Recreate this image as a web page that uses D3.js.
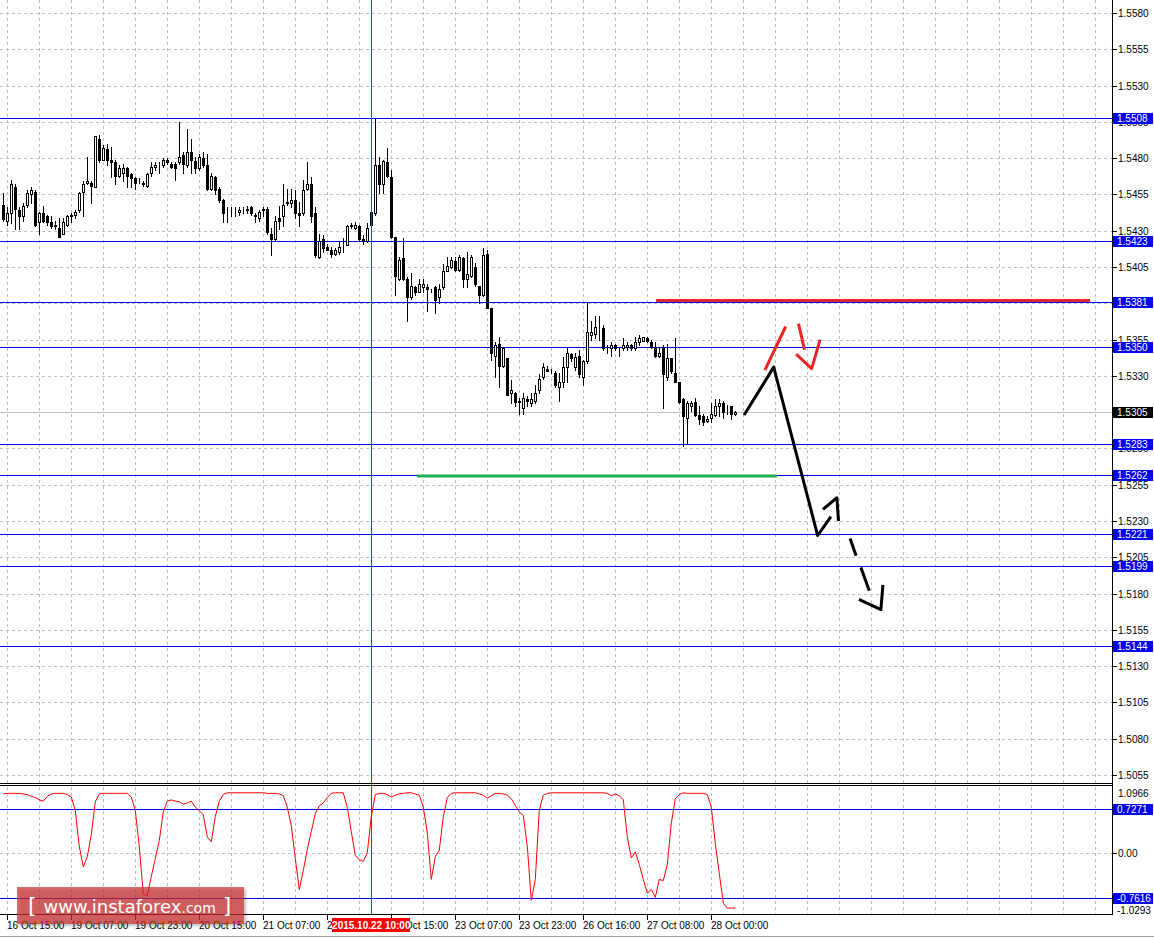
<!DOCTYPE html>
<html lang="en">
<head>
<meta charset="UTF-8">
<title>H1 chart with levels</title>
<script src="https://d3js.org/d3.v7.min.js"></script>
<style>
  body { margin: 0; background: #fff; }
  svg text { font-family: "Liberation Sans", Arial, sans-serif; font-size: 10px; }
</style>
</head>
<body>
<div id="chart"></div>
<script>
// ---- candles (H1), bar 0 = 16 Oct 14:00 ----
const opens = [1.5448,1.5437,1.5442,1.5460,1.5444,1.5440,1.5448,1.5455,1.5457,1.5436,1.5442,1.5440,1.5436,1.5434,1.5432,1.5428,1.5434,1.5440,1.5441,1.5444,
1.5457,1.5463,1.5463,1.5460,1.5493,1.5479,1.5486,1.5479,1.5477,1.5468,1.5470,1.5473,1.5469,1.5466,1.5464,1.5463,1.5461,1.5470,1.5474,1.5474,
1.5475,1.5479,1.5476,1.5476,1.5477,1.5482,1.5475,1.5484,1.5478,1.5473,1.5480,1.5475,1.5459,1.5467,1.5459,1.5451,1.5443,1.5444,1.5443,1.5443,
1.5444,1.5444,1.5446,1.5441,1.5439,1.5444,1.5445,1.5428,1.5424,1.5439,1.5440,1.5449,1.5449,1.5451,1.5442,1.5442,1.5459,1.5462,1.5442,1.5412,
1.5424,1.5419,1.5417,1.5414,1.5415,1.5419,1.5420,1.5433,1.5432,1.5433,1.5424,1.5423,1.5434,1.5442,1.5475,1.5462,1.5477,1.5467,1.5426,1.5397,
1.5411,1.5397,1.5384,1.5391,1.5388,1.5391,1.5391,1.5389,1.5391,1.5384,1.5391,1.5402,1.5405,1.5409,1.5403,1.5411,1.5397,1.5399,1.5405,1.5392,
1.5386,1.5414,1.5377,1.5344,1.5352,1.5337,1.5342,1.5318,1.5318,1.5313,1.5308,1.5314,1.5311,1.5313,1.5320,1.5329,1.5335,1.5333,1.5332,1.5322,
1.5326,1.5336,1.5345,1.5336,1.5344,1.5329,1.5340,1.5358,1.5359,1.5364,1.5363,1.5349,1.5349,1.5351,1.5349,1.5349,1.5350,1.5351,1.5349,1.5353,
1.5354,1.5356,1.5353,1.5350,1.5344,1.5350,1.5329,1.5342,1.5332,1.5326,1.5314,1.5301,1.5309,1.5312,1.5303,1.5302,1.5299,1.5301,1.5303,1.5309,
1.5311,1.5308,1.5309,1.5304];
const highs = [1.5456,1.5446,1.5465,1.5462,1.5446,1.5449,1.5458,1.5460,1.5458,1.5443,1.5447,1.5441,1.5440,1.5437,1.5439,1.5439,1.5441,1.5442,1.5444,1.5457,
1.5464,1.5481,1.5464,1.5495,1.5496,1.5489,1.5490,1.5488,1.5479,1.5475,1.5476,1.5474,1.5470,1.5467,1.5466,1.5464,1.5470,1.5477,1.5477,1.5477,
1.5480,1.5480,1.5477,1.5477,1.5505,1.5484,1.5500,1.5493,1.5481,1.5483,1.5484,1.5483,1.5470,1.5468,1.5460,1.5452,1.5446,1.5446,1.5446,1.5446,
1.5446,1.5447,1.5447,1.5442,1.5444,1.5446,1.5446,1.5432,1.5440,1.5447,1.5462,1.5459,1.5459,1.5458,1.5450,1.5465,1.5477,1.5467,1.5446,1.5428,
1.5427,1.5421,1.5419,1.5418,1.5422,1.5425,1.5434,1.5435,1.5436,1.5434,1.5427,1.5435,1.5443,1.5508,1.5481,1.5479,1.5487,1.5472,1.5426,1.5412,
1.5425,1.5398,1.5401,1.5392,1.5397,1.5397,1.5393,1.5390,1.5392,1.5393,1.5407,1.5412,1.5412,1.5412,1.5413,1.5412,1.5415,1.5413,1.5408,1.5392,
1.5418,1.5417,1.5377,1.5353,1.5357,1.5350,1.5342,1.5327,1.5319,1.5315,1.5318,1.5316,1.5318,1.5324,1.5331,1.5339,1.5337,1.5335,1.5333,1.5332,
1.5343,1.5349,1.5346,1.5346,1.5348,1.5341,1.5381,1.5368,1.5371,1.5371,1.5365,1.5351,1.5353,1.5352,1.5349,1.5356,1.5353,1.5352,1.5357,1.5358,
1.5357,1.5357,1.5355,1.5353,1.5350,1.5351,1.5352,1.5342,1.5356,1.5326,1.5315,1.5313,1.5313,1.5315,1.5309,1.5304,1.5302,1.5311,1.5314,1.5314,
1.5313,1.5310,1.5309,1.5306];
const lows = [1.5437,1.5434,1.5435,1.5431,1.5431,1.5437,1.5446,1.5449,1.5433,1.5428,1.5436,1.5434,1.5432,1.5431,1.5426,1.5428,1.5433,1.5436,1.5439,1.5443,
1.5440,1.5462,1.5449,1.5460,1.5477,1.5479,1.5475,1.5467,1.5462,1.5467,1.5464,1.5460,1.5460,1.5459,1.5463,1.5461,1.5460,1.5468,1.5472,1.5470,
1.5474,1.5476,1.5473,1.5465,1.5476,1.5470,1.5474,1.5470,1.5470,1.5472,1.5474,1.5458,1.5458,1.5455,1.5450,1.5436,1.5436,1.5440,1.5440,1.5441,
1.5442,1.5442,1.5441,1.5436,1.5437,1.5440,1.5428,1.5413,1.5423,1.5431,1.5433,1.5448,1.5446,1.5439,1.5433,1.5441,1.5458,1.5436,1.5412,1.5411,
1.5415,1.5417,1.5412,1.5413,1.5414,1.5415,1.5420,1.5432,1.5431,1.5423,1.5421,1.5422,1.5433,1.5441,1.5456,1.5456,1.5467,1.5425,1.5386,1.5396,
1.5396,1.5368,1.5383,1.5386,1.5388,1.5388,1.5375,1.5388,1.5373,1.5380,1.5390,1.5402,1.5404,1.5402,1.5402,1.5391,1.5391,1.5398,1.5392,1.5380,
1.5385,1.5377,1.5341,1.5329,1.5322,1.5336,1.5317,1.5311,1.5309,1.5304,1.5304,1.5309,1.5309,1.5311,1.5318,1.5328,1.5333,1.5332,1.5322,1.5313,
1.5322,1.5326,1.5340,1.5334,1.5329,1.5324,1.5339,1.5355,1.5356,1.5355,1.5348,1.5346,1.5344,1.5348,1.5344,1.5348,1.5348,1.5348,1.5348,1.5351,
1.5354,1.5353,1.5349,1.5343,1.5343,1.5308,1.5327,1.5332,1.5326,1.5311,1.5282,1.5283,1.5306,1.5302,1.5297,1.5296,1.5298,1.5298,1.5302,1.5302,
1.5301,1.5304,1.5300,1.5303];
const closes = [1.5438,1.5442,1.5462,1.5445,1.5440,1.5447,1.5456,1.5458,1.5434,1.5442,1.5437,1.5436,1.5433,1.5433,1.5426,1.5436,1.5440,1.5441,1.5443,1.5456,
1.5462,1.5464,1.5461,1.5495,1.5479,1.5487,1.5479,1.5477,1.5468,1.5473,1.5473,1.5468,1.5466,1.5463,1.5464,1.5462,1.5469,1.5474,1.5475,1.5474,
1.5479,1.5477,1.5474,1.5473,1.5481,1.5476,1.5484,1.5479,1.5473,1.5481,1.5475,1.5459,1.5468,1.5458,1.5451,1.5442,1.5443,1.5444,1.5443,1.5444,
1.5444,1.5445,1.5442,1.5440,1.5443,1.5445,1.5429,1.5424,1.5437,1.5437,1.5448,1.5450,1.5451,1.5442,1.5441,1.5458,1.5462,1.5440,1.5413,1.5423,
1.5418,1.5417,1.5414,1.5417,1.5419,1.5419,1.5433,1.5434,1.5434,1.5424,1.5423,1.5432,1.5443,1.5475,1.5462,1.5478,1.5468,1.5426,1.5399,1.5410,
1.5397,1.5384,1.5392,1.5388,1.5393,1.5393,1.5390,1.5389,1.5382,1.5390,1.5402,1.5406,1.5410,1.5403,1.5412,1.5397,1.5400,1.5412,1.5393,1.5386,
1.5413,1.5377,1.5346,1.5351,1.5337,1.5349,1.5317,1.5320,1.5312,1.5312,1.5315,1.5313,1.5314,1.5318,1.5328,1.5336,1.5333,1.5333,1.5324,1.5326,
1.5336,1.5346,1.5342,1.5343,1.5331,1.5340,1.5360,1.5360,1.5364,1.5364,1.5349,1.5349,1.5351,1.5349,1.5349,1.5351,1.5351,1.5349,1.5353,1.5356,
1.5357,1.5354,1.5350,1.5344,1.5346,1.5331,1.5342,1.5333,1.5326,1.5312,1.5302,1.5311,1.5311,1.5303,1.5300,1.5298,1.5300,1.5304,1.5309,1.5311,
1.5305,1.5308,1.5304,1.5305];

// ---- oscillator in the lower window ----
const oscValues = [0.98,0.99,0.99,0.99,0.99,0.98,0.97,0.94,0.92,0.88,0.86,0.94,0.98,0.99,0.99,0.99,0.97,0.93,0.70,0.10,
-0.24,-0.07,0.30,0.85,0.98,0.99,0.99,0.99,0.99,0.99,0.99,0.99,0.93,0.70,0.10,-0.70,-0.72,-0.40,-0.10,0.20,
0.68,0.86,0.88,0.86,0.85,0.81,0.83,0.86,0.76,0.70,0.63,0.26,0.18,0.60,0.86,0.97,1.00,1.00,1.00,1.00,
1.00,1.00,1.00,1.00,1.00,1.00,0.99,0.99,0.99,0.98,0.95,0.76,0.45,-0.10,-0.62,-0.30,0.05,0.35,0.65,0.78,
0.83,0.92,0.99,1.00,1.00,1.00,0.75,0.35,-0.05,-0.12,-0.15,0.00,0.60,0.97,0.99,0.99,0.97,0.93,0.96,0.98,
0.99,1.00,1.00,0.98,0.96,0.76,0.33,-0.45,-0.07,0.04,0.60,0.92,0.99,1.00,1.00,1.00,1.00,1.00,1.00,0.98,
0.96,0.91,0.95,0.99,0.99,0.98,0.96,0.90,0.79,0.68,0.62,0.10,-0.80,-0.45,0.71,0.96,0.99,1.00,1.00,1.00,
1.00,1.00,1.00,1.00,1.00,1.00,1.00,1.00,1.00,1.00,1.00,0.99,0.95,0.98,0.95,0.88,0.26,-0.09,0.01,-0.20,
-0.45,-0.68,-0.62,-0.75,-0.45,-0.47,-0.20,0.49,0.90,0.97,1.00,0.99,0.99,0.99,0.99,0.99,0.97,0.76,0.15,-0.35,
-0.85,-0.93,-0.93,-0.93];
const oscTop = 1.0966, oscBottom = -1.0293;
const oscLevels = [0.7271, -0.7616];

// ---- axes ----
const priceTicks = [1.5055,1.5080,1.5105,1.5130,1.5155,1.5180,1.5205,1.5230,1.5255,1.5280,1.5305,1.5330,
  1.5355,1.5380,1.5405,1.5430,1.5455,1.5480,1.5505,1.5530,1.5555,1.5580];
const timeLabels = ["16 Oct 15:00","19 Oct 07:00","19 Oct 23:00","20 Oct 15:00","21 Oct 07:00","21 Oct 23:00",
  "22 Oct 15:00","23 Oct 07:00","23 Oct 23:00","26 Oct 16:00","27 Oct 08:00","28 Oct 00:00"];
const timeLabelBars = [1,17,33,49,65,81,97,113,129,145,161,177];
const cursorBar = 92, cursorLabel = "2015.10.22 10:00";

// ---- horizontal levels ----
const levelPrices = [1.5508,1.5423,1.5381,1.5350,1.5283,1.5262,1.5221,1.5199,1.5144];
const bidPrice = 1.5305;

// ---- drawn objects: [bar, price] ----
const resistanceSeg = [[163.2,1.5382],[271.7,1.5382]];
const supportSeg = [[103.4,1.5261],[193.4,1.5261]];
const blackPath = [[185.2,1.5303],[192.6,1.5336],[203.6,1.5220],[206.9,1.5233]];
const blackHead1 = [[204.9,1.5238],[208.4,1.5246],[208.8,1.5230]];
const blackDash1 = [[211.7,1.5218],[213.2,1.5206]];
const blackDash2 = [[214.4,1.5198],[216.5,1.5182]];
const blackHead2 = [[213.9,1.5176],[219.4,1.5169],[219.9,1.5186]];
const redUp = [[190.4,1.5334],[195.6,1.5364]];
const redDown = [[198.8,1.5366],[200.3,1.5348]];
const redHead = [[198.2,1.5345],[202.1,1.5335],[204.2,1.5355]];

// ---- layout ----
const W = 1154, H = 938;
const plotRight = 1112;
const mainBottom = 783;
const indTop = 787, indBottom = 914;
const blue = "#0000ee";

const x = d3.scaleLinear().domain([-0.825, 277.175]).range([0, plotRight]);
const y = d3.scaleLinear().domain([1.558896, 1.504948]).range([0, mainBottom]);
const yInd = d3.scaleLinear().domain([oscBottom, oscTop]).range([indBottom, indTop]);
const px = v => Math.round(v) + 0.5;

const svg = d3.select("#chart").append("svg")
    .attr("width", W).attr("height", H)
    .style("display", "block");

svg.append("rect").attr("width", W).attr("height", H).attr("fill", "#fff");

const defs = svg.append("defs");
defs.append("clipPath").attr("id", "clipMain")
  .append("rect").attr("x", 0).attr("y", 0).attr("width", plotRight).attr("height", mainBottom);
defs.append("clipPath").attr("id", "clipInd")
  .append("rect").attr("x", 0).attr("y", indTop).attr("width", plotRight).attr("height", indBottom - indTop);
const shadow = defs.append("filter").attr("id", "shadow").attr("x", "-10%").attr("y", "-20%").attr("width", "130%").attr("height", "160%");
shadow.append("feDropShadow").attr("dx", 2).attr("dy", 2).attr("stdDeviation", 1.5).attr("flood-color", "#000").attr("flood-opacity", 0.35);

// grid
const gridBars = d3.range(1, 278, 8);
const grid = svg.append("g").attr("stroke", "#c0c0c0").attr("stroke-dasharray", "3,3").attr("stroke-width", 1);
grid.selectAll("line.vg").data(gridBars).join("line").attr("class", "vg")
    .attr("x1", d => px(x(d))).attr("x2", d => px(x(d)))
    .attr("y1", 0).attr("y2", mainBottom);
grid.selectAll("line.vgi").data(gridBars).join("line").attr("class", "vgi")
    .attr("x1", d => px(x(d))).attr("x2", d => px(x(d)))
    .attr("y1", indTop).attr("y2", indBottom);
grid.selectAll("line.hg").data(priceTicks).join("line").attr("class", "hg")
    .attr("x1", 0).attr("x2", plotRight)
    .attr("y1", d => px(y(d))).attr("y2", d => px(y(d)));
grid.append("line").attr("x1", 0).attr("x2", plotRight)
    .attr("y1", px(yInd(0))).attr("y2", px(yInd(0)));

// main plot contents
const main = svg.append("g").attr("clip-path", "url(#clipMain)");

main.selectAll("line.level").data(levelPrices).join("line").attr("class", "level")
    .attr("x1", 0).attr("x2", plotRight)
    .attr("y1", d => px(y(d))).attr("y2", d => px(y(d)))
    .attr("stroke", blue).attr("stroke-width", 1);
main.append("line")
    .attr("x1", 0).attr("x2", plotRight)
    .attr("y1", px(y(bidPrice))).attr("y2", px(y(bidPrice)))
    .attr("stroke", "#c0c0c0");

// candles
const bars = d3.range(opens.length);
const cg = main.append("g");
cg.selectAll("line.wick").data(bars).join("line").attr("class", "wick")
    .attr("x1", i => px(x(i))).attr("x2", i => px(x(i)))
    .attr("y1", i => Math.round(y(highs[i]))).attr("y2", i => Math.round(y(lows[i])) + 1)
    .attr("stroke", "#000");
cg.selectAll("rect.body").data(bars).join("rect").attr("class", "body")
    .attr("x", i => Math.round(x(i)) - 1 + 0.5)
    .attr("width", 2)
    .attr("y", i => Math.round(y(Math.max(opens[i], closes[i]))) + 0.5)
    .attr("height", i => Math.max(0, Math.round(y(Math.min(opens[i], closes[i]))) - Math.round(y(Math.max(opens[i], closes[i])))))
    .attr("fill", i => closes[i] >= opens[i] ? "#fff" : "#000")
    .attr("stroke", "#000");

// drawn objects
const line = d3.line().x(d => x(d[0])).y(d => y(d[1]));
main.append("path").attr("d", line(resistanceSeg)).attr("stroke", "#e3262c").attr("stroke-width", 3).attr("fill", "none");
main.append("path").attr("d", line(supportSeg)).attr("stroke", "#22b14c").attr("stroke-width", 3).attr("fill", "none");
[blackPath, blackHead1, blackDash1, blackDash2, blackHead2].forEach(p => {
  main.append("path").attr("d", line(p)).attr("stroke", "#000").attr("stroke-width", 3)
      .attr("fill", "none").attr("stroke-linejoin", "round");
});
[redUp, redDown, redHead].forEach(p => {
  main.append("path").attr("d", line(p)).attr("stroke", "#ee2424").attr("stroke-width", 3)
      .attr("fill", "none").attr("stroke-linejoin", "round");
});

// indicator window
const ind = svg.append("g").attr("clip-path", "url(#clipInd)");
ind.selectAll("line.il").data(oscLevels).join("line").attr("class", "il")
    .attr("x1", 0).attr("x2", plotRight)
    .attr("y1", d => px(yInd(d))).attr("y2", d => px(yInd(d)))
    .attr("stroke", blue);
ind.append("path")
    .attr("d", d3.line().x((d, i) => x(i)).y(d => yInd(d))(oscValues))
    .attr("fill", "none").attr("stroke", "#ff0000").attr("stroke-width", 1);

// cursor line
svg.append("line")
    .attr("x1", px(x(cursorBar))).attr("x2", px(x(cursorBar)))
    .attr("y1", 0).attr("y2", indBottom)
    .attr("stroke", "#ff0000");

// frames
const frame = svg.append("g").attr("stroke", "#000").attr("stroke-width", 1);
frame.append("line").attr("x1", px(plotRight)).attr("x2", px(plotRight)).attr("y1", 0).attr("y2", indBottom + 1);
frame.append("line").attr("x1", 0).attr("x2", plotRight).attr("y1", mainBottom + 0.5).attr("y2", mainBottom + 0.5);
frame.append("line").attr("x1", 0).attr("x2", plotRight).attr("y1", indTop - 1.5).attr("y2", indTop - 1.5);
frame.append("line").attr("x1", 0).attr("x2", plotRight + 1).attr("y1", indBottom + 0.5).attr("y2", indBottom + 0.5);
svg.append("line").attr("x1", 0).attr("x2", W).attr("y1", H - 1.5).attr("y2", H - 1.5).attr("stroke", "#a0a0a0");

// price axis
const pa = svg.append("g");
pa.selectAll("line").data(priceTicks).join("line")
    .attr("x1", plotRight + 1).attr("x2", plotRight + 5)
    .attr("y1", d => px(y(d))).attr("y2", d => px(y(d))).attr("stroke", "#000");
pa.selectAll("text").data(priceTicks).join("text")
    .attr("x", plotRight + 6).attr("y", d => y(d) + 4)
    .text(d => d.toFixed(4));

function tagBox(yPos, label, bg) {
  svg.append("rect").attr("x", plotRight + 1).attr("y", Math.round(yPos) - 5)
      .attr("width", 40).attr("height", 11).attr("fill", bg);
  svg.append("text").attr("x", plotRight + 5).attr("y", Math.round(yPos) + 4)
      .attr("fill", "#fff").text(label);
}
levelPrices.forEach(p => tagBox(y(p), p.toFixed(4), blue));
tagBox(y(bidPrice), bidPrice.toFixed(4), "#000");

// indicator axis
svg.append("text").attr("x", plotRight + 6).attr("y", indTop + 10).text(oscTop.toFixed(4));
svg.append("text").attr("x", plotRight + 5).attr("y", indBottom).text(oscBottom.toFixed(4));
svg.append("line").attr("x1", plotRight + 1).attr("x2", plotRight + 5)
    .attr("y1", px(yInd(0))).attr("y2", px(yInd(0))).attr("stroke", "#000");
svg.append("text").attr("x", plotRight + 6).attr("y", yInd(0) + 4).text("0.00");
oscLevels.forEach(v => tagBox(yInd(v), v.toFixed(4), blue));

// time axis
const ta = svg.append("g");
ta.selectAll("line").data(timeLabelBars).join("line")
    .attr("x1", d => px(x(d))).attr("x2", d => px(x(d)))
    .attr("y1", indBottom + 1).attr("y2", indBottom + 6).attr("stroke", "#000");
ta.selectAll("text").data(timeLabelBars).join("text")
    .attr("x", d => Math.round(x(d)))
    .attr("y", indBottom + 15)
    .text((d, i) => timeLabels[i]);
const cx = x(cursorBar);
svg.append("rect").attr("x", Math.round(cx) - 39).attr("y", indBottom + 4)
    .attr("width", 78).attr("height", 14).attr("fill", "#ff0000");
svg.append("text").attr("x", cx).attr("y", indBottom + 15)
    .attr("text-anchor", "middle").attr("fill", "#fff").attr("font-weight", "bold")
    .text(cursorLabel);

// watermark
const wm = svg.append("g");
wm.append("rect").attr("x", 17).attr("y", 887).attr("width", 227).attr("height", 37)
    .attr("fill", "#c82a2c").attr("fill-opacity", 0.68).attr("filter", "url(#shadow)");
const wt = wm.append("text").attr("x", 28).attr("y", 913).attr("fill", "#fff")
    .style("font-family", "'DejaVu Sans', Verdana, sans-serif");
wt.append("tspan").style("font-size", "22px").text("[ ");
wt.append("tspan").style("font-size", "18px").text("www.instaforex");
wt.append("tspan").style("font-size", "14px").text(".com");
wt.append("tspan").style("font-size", "22px").text(" ]");
</script>
</body>
</html>
